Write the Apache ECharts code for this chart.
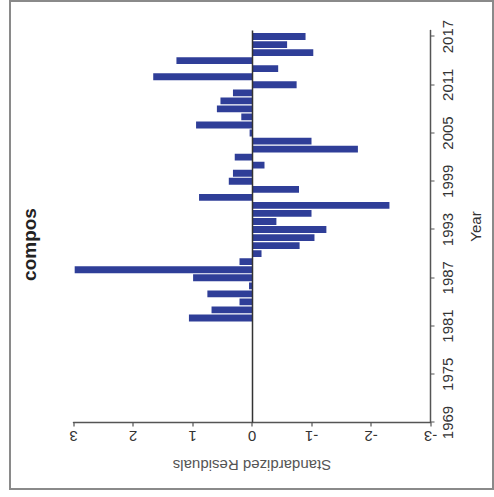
<!DOCTYPE html>
<html><head><meta charset="utf-8">
<script src="https://cdn.jsdelivr.net/npm/echarts@6/dist/echarts.min.js"></script>
<style>
html,body{margin:0;padding:0;background:#fff;width:494px;height:497px;overflow:hidden;}
#frame{position:absolute;left:9px;top:0;width:485px;height:490px;border:2px solid #8a8a8a;box-sizing:border-box;}
#chart{position:absolute;left:-1.5px;top:1.5px;width:497px;height:494px;transform:rotate(-90deg);transform-origin:50% 50%;}
</style></head><body>
<div id="frame"></div>
<div id="chart"></div>
<script>
const titleText = 'compos';
const xName = 'Year';
const yName = 'Standardized Residuals';
const years = [1982,1983,1984,1985,1986,1987,1988,1989,1990,1991,1992,1993,1994,1995,1996,1997,1998,1999,
               2000,2001,2002,2003,2004,2005,2006,2007,2008,2009,2010,2011,2012,2013,2014,2015,2016,2017];
const residuals = [1.06,0.68,0.21,0.75,0.05,0.99,2.98,0.21,-0.16,-0.80,-1.05,-1.25,-0.41,-1.00,-2.31,0.89,-0.79,0.39,
                   0.32,-0.21,0.29,-1.78,-1.00,0.04,0.94,0.18,0.59,0.53,0.32,-0.75,1.66,-0.44,1.27,-1.03,-0.59,-0.90];
const yearTicks = [1969,1975,1981,1987,1993,1999,2005,2011,2017];

const FONT = "'Liberation Sans', Arial, sans-serif";
const chart = echarts.init(document.getElementById('chart'), null, {renderer:'svg'});
chart.setOption({
  animation:false,
  grid:{left:75, right:30, top:73, bottom:64},
  graphic:[{type:'text', x:253, y:29, style:{text:titleText, font:'bold 19px ' + FONT, fill:'#222', align:'center', verticalAlign:'middle'}}],
  xAxis:{type:'value', min:1969, max:2017.75, interval:6,
    name:xName, nameLocation:'middle', nameGap:37,
    nameTextStyle:{fontSize:15, color:'#333', fontFamily:FONT},
    axisLine:{show:true, onZero:false, lineStyle:{color:'#555', width:1.5}},
    axisTick:{show:true, length:4, customValues:yearTicks, lineStyle:{color:'#555', width:1.2}},
    axisLabel:{customValues:yearTicks, margin:9, fontSize:15, color:'#333', fontFamily:FONT, formatter:v=>String(v)},
    splitLine:{show:false}},
  yAxis:{type:'value', min:-3, max:3, interval:1,
    name:yName, nameLocation:'middle', nameRotate:90, nameGap:35,
    nameTextStyle:{fontSize:15, color:'#555', fontFamily:FONT},
    axisLine:{show:true, onZero:false, lineStyle:{color:'#555', width:1.5}},
    axisTick:{show:true, length:4, lineStyle:{color:'#555', width:1.2}},
    axisLabel:{rotate:90, margin:6, fontSize:15, color:'#333', fontFamily:FONT, formatter:v=>String(v)},
    splitLine:{show:false}},
  series:[{type:'bar', data:years.map((y,i)=>[y, residuals[i]]), barWidth:'85%',
    itemStyle:{color:'#2f3e98'}, emphasis:{disabled:true},
    markLine:{silent:true, symbol:'none', label:{show:false}, lineStyle:{color:'#333', width:1.5, type:'solid'}, data:[{yAxis:0}]}}]
});
</script>
</body></html>
